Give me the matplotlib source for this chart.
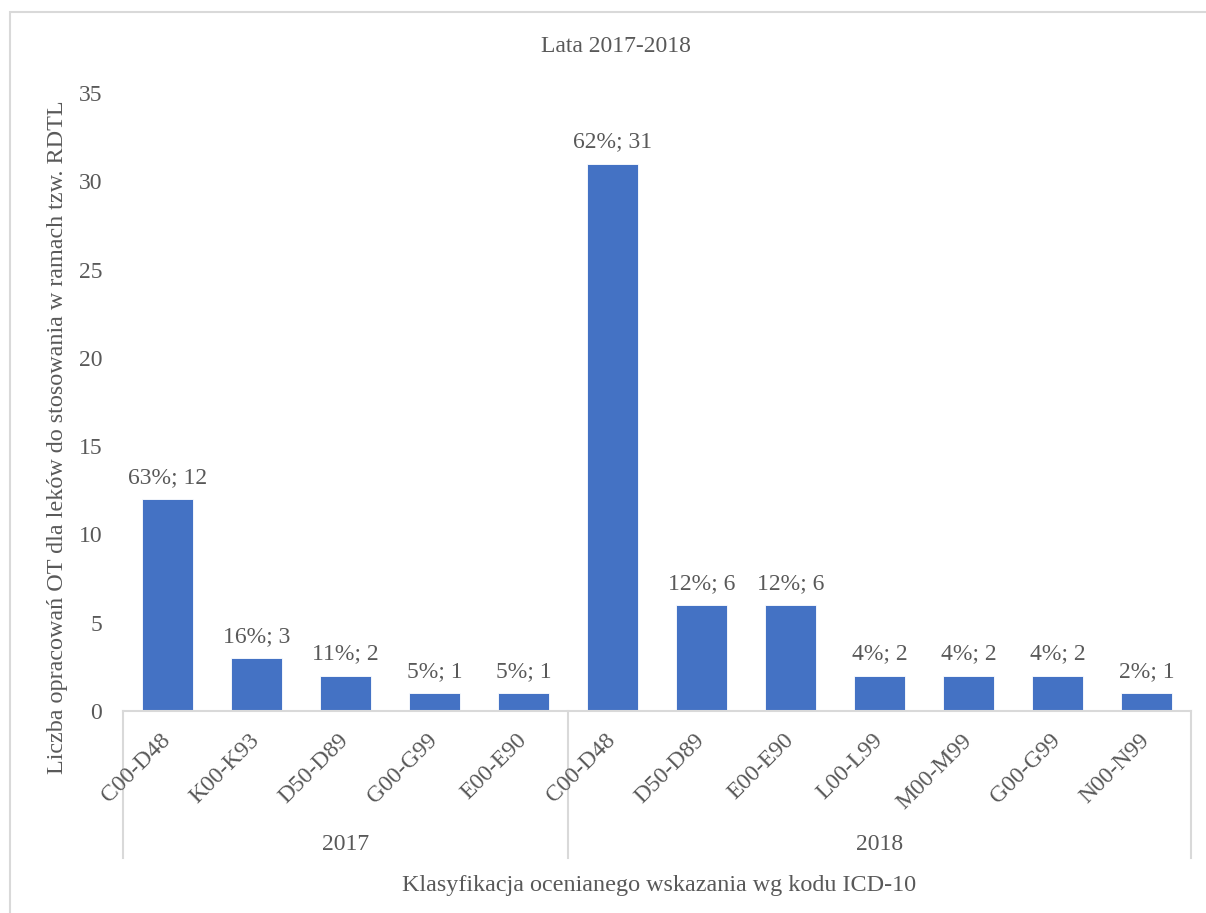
import matplotlib.pyplot as plt
from matplotlib.patches import Rectangle

# data
years = ['2017', '2018']
codes2017 = ['C00-D48', 'K00-K93', 'D50-D89', 'G00-G99', 'E00-E90']
codes2018 = ['C00-D48', 'D50-D89', 'E00-E90', 'L00-L99', 'M00-M99', 'G00-G99', 'N00-N99']
counts2017 = [12, 3, 2, 1, 1]
counts2018 = [31, 6, 6, 2, 2, 2, 1]
pct2017 = ['63%', '16%', '11%', '5%', '5%']
pct2018 = ['62%', '12%', '12%', '4%', '4%', '4%', '2%']

barColor = '#4472C4'
textColor = '#595959'
lineColor = '#D9D9D9'
plt.rcParams['font.family'] = ['Liberation Serif', 'DejaVu Serif']
fs = 17
fsTitle = 17.4

W, H = 1206, 913
fig = plt.figure(figsize=(W/100, H/100), dpi=100)
# chart area frame, cut off at right and bottom like the reference
fig.patches.append(Rectangle((10/W, -0.2), 1.2, 1.2-12/H, transform=fig.transFigure,
                             fill=False, edgecolor=lineColor, linewidth=1.5))

axL, axR, axB, axT = 123, 1191, 711, 93
ax = fig.add_axes([axL/W, 1-axB/H, (axR-axL)/W, (axB-axT)/H])

codes = codes2017 + codes2018
counts = counts2017 + counts2018
pcts = pct2017 + pct2018
xs = list(range(len(codes)))
ax.bar(xs, counts, width=0.57, color=barColor, edgecolor='white', linewidth=0.6)
for x, c, p in zip(xs, counts, pcts):
    ax.annotate('%s; %d' % (p, c), (x, c), xytext=(0, 8), textcoords='offset points',
                ha='center', va='bottom', fontsize=fs, color=textColor)

ax.set_xlim(-0.5, len(codes)-0.5)
ax.set_ylim(0, 35)
ax.set_yticks(range(0, 36, 5))
ax.tick_params(axis='y', length=0, pad=15, labelsize=fs, labelcolor=textColor)
ax.set_xticks([])
for s in ['top', 'right', 'left']:
    ax.spines[s].set_visible(False)
ax.spines['bottom'].set_color(lineColor)
ax.spines['bottom'].set_linewidth(1.5)

# category labels, rotated 45 deg, ending at the category centre
for x, code in zip(xs, codes):
    ax.annotate(code, (x, 0), xytext=(0, -19), textcoords='offset points',
                ha='right', va='center', rotation=45,
                rotation_mode='anchor', fontsize=fs, color=textColor)

# group separators and labels
sepBottom = (axB-858)/(axB-axT)
n17 = len(codes2017)
for xsep in [-0.5, n17-0.5, len(codes)-0.5]:
    ax.plot([xsep, xsep], [0, sepBottom], transform=ax.get_xaxis_transform(),
            color=lineColor, linewidth=1.5, clip_on=False)
groupCenters = [(n17-1)/2, n17 + (len(codes2018)-1)/2]
for gx, yr in zip(groupCenters, years):
    ax.text(gx, (axB-844)/(axB-axT), yr, transform=ax.get_xaxis_transform(),
            ha='center', va='center', fontsize=fs, color=textColor)

fig.text(616/W, 1-46/H, 'Lata 2017-2018', ha='center', va='center', fontsize=fs, color=textColor)
fig.text(659/W, 1-885/H, 'Klasyfikacja ocenianego wskazania wg kodu ICD-10',
         ha='center', va='center', fontsize=fsTitle, color=textColor)
fig.text(58/W, 1-437/H, 'Liczba opracowań OT dla leków do stosowania w ramach tzw. RDTL',
         ha='center', va='center', rotation=90, fontsize=fsTitle, color=textColor)

fig.savefig('out.png', dpi=100)
